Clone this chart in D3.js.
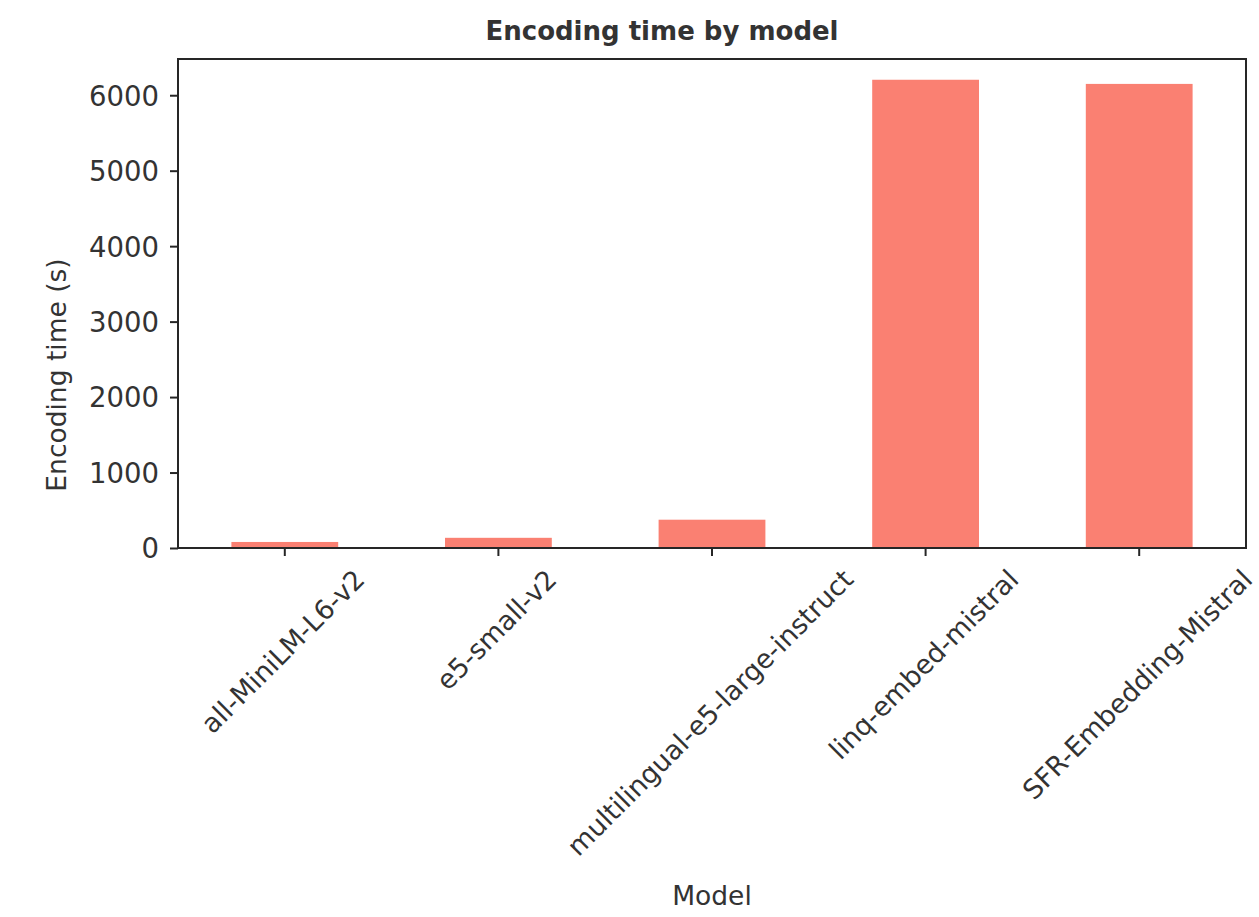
<!DOCTYPE html>
<html>
<head>
<meta charset="utf-8">
<script src="https://cdn.jsdelivr.net/npm/d3@7"></script>
<style>
  body { margin: 0; background: #fff; }
  text { font-family: "DejaVu Sans", sans-serif; fill: #333; }
</style>
</head>
<body>
<svg id="chart" width="1259" height="917"></svg>
<script>
const models = ["all-MiniLM-L6-v2", "e5-small-v2", "multilingual-e5-large-instruct", "linq-embed-mistral", "SFR-Embedding-Mistral"];
const encodingTime = [80, 135, 375, 6205, 6150];
const yTicks = [0, 1000, 2000, 3000, 4000, 5000, 6000];
const titleText = "Encoding time by model";
const xLabel = "Model";
const yLabel = "Encoding time (s)";

const svg = d3.select("#chart");
const m = {left: 178, right: 1246, top: 59, bottom: 548};
const fs = 26;
const tfs = 27.5;
const xfs = 26.8;

const x = d3.scaleBand().domain(models).range([m.left, m.right]).paddingInner(0.5).paddingOuter(0.25);
const y = d3.scaleLinear().domain([0, 6480]).range([m.bottom, m.top]);

// bars
svg.append("g").selectAll("rect").data(models).join("rect")
  .attr("x", d => x(d))
  .attr("width", x.bandwidth())
  .attr("y", (d, i) => y(encodingTime[i]))
  .attr("height", (d, i) => y(0) - y(encodingTime[i]))
  .attr("fill", "#FA8072");

// frame
svg.append("rect")
  .attr("x", m.left).attr("y", m.top)
  .attr("width", m.right - m.left).attr("height", m.bottom - m.top)
  .attr("fill", "none").attr("stroke", "#262626").attr("stroke-width", 2);

// y axis
const yAxis = svg.append("g").attr("transform", `translate(${m.left},0)`)
  .call(d3.axisLeft(y).tickValues(yTicks).tickSize(8).tickPadding(11).tickFormat(d3.format("d")));
yAxis.select(".domain").remove();
yAxis.selectAll(".tick line").attr("stroke", "#262626").attr("stroke-width", 2);
yAxis.selectAll(".tick text").style("font-size", tfs + "px").style("font-family", "DejaVu Sans").attr("fill", "#333").attr("dy", "0.36em");

// x axis ticks
const xAxis = svg.append("g").attr("transform", `translate(0,${m.bottom})`)
  .call(d3.axisBottom(x).tickSize(8).tickFormat(""));
xAxis.select(".domain").remove();
xAxis.selectAll(".tick line").attr("stroke", "#262626").attr("stroke-width", 2);

// rotated x labels, bbox centered on tick
const labelTop = 565;
models.forEach(d => {
  const t = svg.append("text").text(d)
    .style("font-size", xfs + "px")
    .attr("text-anchor", "middle")
    .attr("dominant-baseline", "central");
  const L = t.node().getComputedTextLength();
  const h = (L + xfs * 1.0) * Math.SQRT1_2;
  const cx = x(d) + x.bandwidth() / 2 - 2;
  const cy = labelTop + h / 2;
  t.attr("x", cx).attr("y", cy).attr("transform", `rotate(-45,${cx},${cy})`);
});

// title
svg.append("text").attr("x", 662).attr("y", 40).attr("text-anchor", "middle")
  .style("font-size", fs + "px").style("font-weight", "bold").text(titleText);

// x label
svg.append("text").attr("x", (m.left + m.right) / 2).attr("y", 905).attr("text-anchor", "middle")
  .style("font-size", "26.5px").text(xLabel);

// y label
svg.append("text").attr("transform", "translate(66,375) rotate(-90)").attr("text-anchor", "middle")
  .style("font-size", "26.5px").text(yLabel);
</script>
</body>
</html>
